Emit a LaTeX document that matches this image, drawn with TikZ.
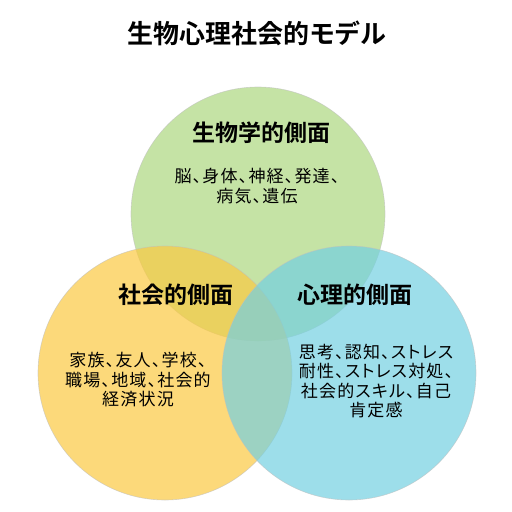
\documentclass[tikz,border=0pt]{standalone}
\usepackage{fontspec}
\setmainfont{Noto Sans CJK JP}[RawFeature=+palt, LetterSpace=7]
\newfontfamily\jpbold{Noto Sans CJK JP Bold}
\definecolor{cgreen}{RGB}{172,215,127}
\definecolor{cyellow}{RGB}{251,201,65}
\definecolor{cblue}{RGB}{116,208,225}
\begin{document}
\begin{tikzpicture}[x=1pt,y=-1pt,
  venn/.style={circle, minimum size=254pt, inner sep=0pt, fill opacity=0.7, draw=black!25, draw opacity=0.6, line width=0.6pt},
  title/.style={font=\jpbold\fontsize{26}{30}\selectfont, text=black},
  head/.style={font=\jpbold\fontsize{23}{28}\selectfont, text=black},
  body/.style={font=\fontsize{17}{19.5}\selectfont, align=center, text=black}]
\useasboundingbox (0,0) rectangle (512,512);
\node[venn, fill=cgreen] (bio) at (258,214) {};
\node[venn, fill=cyellow] (soc) at (165,373) {};
\node[venn, fill=cblue] (psy) at (349,373) {};
\node[title] (t) at (257,33) {生物心理社会的モデル};
\node[head] (hbio) at (261,133) {生物学的側面};
\node[body] (bbio) at (257,186) {脳、身体、神経、発達、\\病気、遺伝};
\node[head] (hsoc) at (176,295) {社会的側面};
\node[body] (bsoc) at (138,380) {家族、友人、学校、\\職場、地域、社会的\\経済状況};
\node[head] (hpsy) at (355,295) {心理的側面};
\node[body] (bpsy) at (376,381) {思考、認知、ストレス\\耐性、ストレス対処、\\社会的スキル、自己\\肯定感};
\end{tikzpicture}
\end{document}
